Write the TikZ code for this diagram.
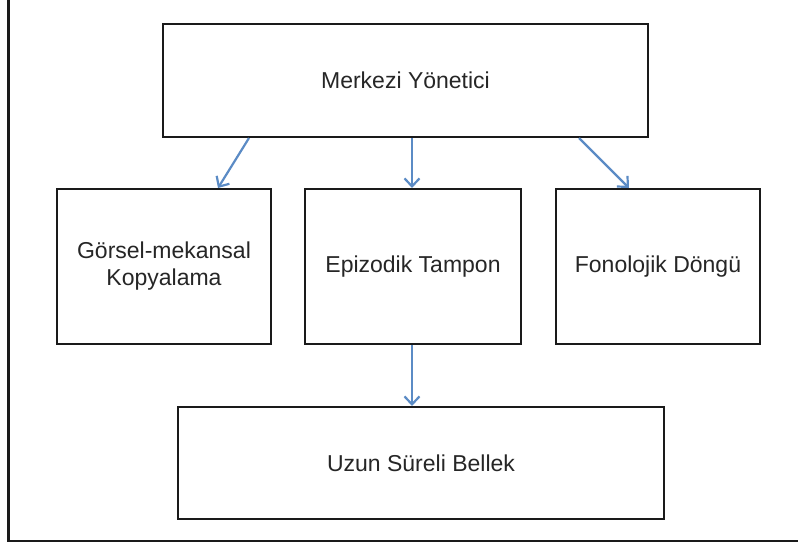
\documentclass[tikz,border=0pt]{standalone}
\usepackage{fontspec}
\setmainfont{Liberation Sans}
\usepackage{xcolor}
\usetikzlibrary{arrows.meta}

\definecolor{linkblue}{HTML}{5B8BC5}
\definecolor{boxline}{HTML}{1A1A1A}

\begin{document}
\begin{tikzpicture}[x=1pt, y=-1pt,
    model/.style={draw=boxline, line width=2pt, fill=white, inner sep=0pt,
      font=\fontsize{23}{27}\selectfont, text=black!85, align=center},
    link/.style={draw=linkblue, line width=2.2pt,
      -{Straight Barb[length=8pt, width=15pt, line width=2.2pt]}}]
  \useasboundingbox (0,0) rectangle (798,544);

  % Outer frame (only left and bottom edges fall in the page)
  \draw[line width=2.6pt, boxline] (8.5,-2) -- (8.5,541) -- (800,541);

  % Top box
  \node[model, minimum width=485pt, minimum height=113pt] (merkezi) at (405.5,80.5) {Merkezi Yönetici};

  % Middle row
  \node[model, minimum width=214pt, minimum height=155pt] (gorsel) at (164,266.5) {Görsel-mekansal\\Kopyalama};
  \node[model, minimum width=216pt, minimum height=155pt] (epizodik) at (413,266.5) {Epizodik Tampon};
  \node[model, minimum width=204pt, minimum height=155pt] (fonolojik) at (658,266.5) {Fonolojik Döngü};

  % Bottom box
  \node[model, minimum width=486pt, minimum height=112pt] (uzun) at (421,463) {Uzun Süreli Bellek};

  % Links
  \draw[link] ([xshift=-156.5pt]merkezi.south) -- ([xshift=54pt]gorsel.north);
  \draw[link] ([xshift=6.5pt]merkezi.south) -- ([xshift=-1pt]epizodik.north);
  \draw[link] ([xshift=173.5pt]merkezi.south) -- ([xshift=-29pt]fonolojik.north);
  \draw[link] ([xshift=-1pt]epizodik.south) -- ([xshift=-9pt]uzun.north);
\end{tikzpicture}
\end{document}
